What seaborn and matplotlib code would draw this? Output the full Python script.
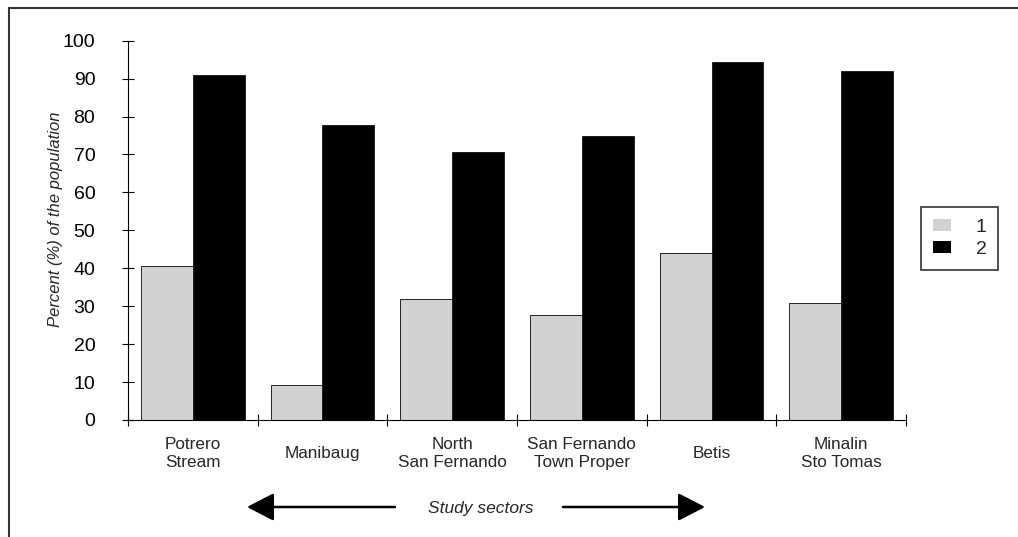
import matplotlib
matplotlib.use("Agg")
import matplotlib.pyplot as plt
from matplotlib.lines import Line2D
import seaborn as sns
import pandas as pd
import numpy as np

# dados
setores = ["Potrero\nStream", "Manibaug", "North\nSan Fernando",
           "San Fernando\nTown Proper", "Betis", "Minalin\nSto Tomas"]
serie_1 = [40.6, 9.2, 32.0, 27.7, 44.1, 30.8]
serie_2 = [91.0, 77.7, 70.7, 75.0, 94.4, 92.0]
rotulos_serie = ["1", "2"]
ticks_y = [0, 10, 20, 30, 40, 50, 60, 70, 80, 90, 100]

df = pd.DataFrame({
    "setor": setores * 2,
    "serie": [rotulos_serie[0]] * len(setores) + [rotulos_serie[1]] * len(setores),
    "valor": serie_1 + serie_2,
})

sns.set_theme(style="white")
plt.rcParams["font.family"] = ["Liberation Sans", "DejaVu Sans"]

fig = plt.figure(figsize=(10.18, 5.37), dpi=100)
ax = fig.add_axes([0.1257, 0.2179, 0.890 - 0.1257, 0.9242 - 0.2179])

sns.barplot(data=df, x="setor", y="valor", hue="serie", order=setores,
            hue_order=rotulos_serie, palette={"1": "#d2d2d2", "2": "#000000"},
            width=0.8, edgecolor="#222222", linewidth=0.7, ax=ax)

ax.set_xlim(-0.5, len(setores) - 0.5)
ax.set_ylim(0, 100)
ax.set_yticks(ticks_y)
ax.set_yticklabels([str(t) for t in ticks_y], fontsize=14)
ax.tick_params(axis="y", direction="inout", length=9, width=0.8, pad=19,
               left=True, colors="black")

ax.set_xticks(range(len(setores)))
ax.set_xticklabels(setores, fontsize=12.3, linespacing=1.2)
ax.set_xticks(np.arange(-0.5, len(setores), 1.0), minor=True)
ax.tick_params(axis="x", which="major", length=0, pad=24)
ax.tick_params(axis="x", which="minor", direction="inout", length=9,
               width=0.8, bottom=True, color="black")
plt.setp(ax.get_xticklabels(), va="center")

for lado in ["top", "right"]:
    ax.spines[lado].set_visible(False)
for lado in ["left", "bottom"]:
    ax.spines[lado].set_color("black")
    ax.spines[lado].set_linewidth(0.8)

ax.set_xlabel("")
ax.set_ylabel("Percent (%) of the population", fontsize=12, style="italic")
ax.yaxis.set_label_coords(-0.0835, 0.53)

leg = ax.legend(loc="center", bbox_to_anchor=(0.943, 0.556),
                bbox_transform=fig.transFigure, fontsize=14, frameon=True,
                fancybox=False, handlelength=0.9, handleheight=0.6,
                handletextpad=1.3, borderpad=0.6, labelspacing=0.25,
                title=None)
leg.get_frame().set_edgecolor("black")
leg.get_frame().set_linewidth(1.2)
for h in leg.legend_handles:
    h.set_edgecolor("none")

# seta "Study sectors"
y_seta = 1 - 507 / 537
props = dict(arrowstyle="-|>,head_length=0.83,head_width=0.43",
             mutation_scale=20, lw=1.8, color="black", shrinkA=0, shrinkB=0)
ax.annotate("", xy=(247 / 1018, y_seta), xytext=(395 / 1018, y_seta),
            xycoords="figure fraction", textcoords="figure fraction",
            arrowprops=props)
ax.annotate("", xy=(705 / 1018, y_seta), xytext=(563 / 1018, y_seta),
            xycoords="figure fraction", textcoords="figure fraction",
            arrowprops=props)
fig.text(481 / 1018, 1 - 508 / 537, "Study sectors", fontsize=12.5,
         style="italic", ha="center", va="center")

# moldura da figura escaneada
fig.add_artist(Line2D([9 / 1018, 9 / 1018], [0, 1 - 8 / 537],
                      color="#333333", lw=1.5))
fig.add_artist(Line2D([9 / 1018, 1], [1 - 8 / 537, 1 - 8 / 537],
                      color="#333333", lw=1.5))

fig.savefig("out.png", dpi=100)
